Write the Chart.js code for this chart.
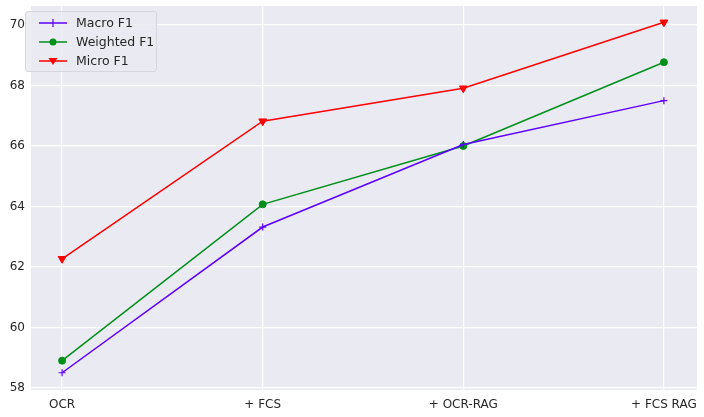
<!DOCTYPE html>
<html>
<head>
<meta charset="utf-8">
<script src="https://cdn.jsdelivr.net/npm/chart.js@4.4.0/dist/chart.umd.min.js"></script>
<style>
  html, body { margin: 0; padding: 0; background: #fff; }
  #wrap { position: relative; width: 704px; height: 417px; }
  #legend {
    position: absolute; left: 25px; top: 11px; width: 130px; height: 59px;
    background: rgba(234,234,242,0.85); border: 1px solid #d6d6de; border-radius: 3px;
    font-family: "DejaVu Sans", sans-serif; font-size: 12.5px; color: #262626;
  }
  #legend .row { position: absolute; left: 0; height: 19px; display: flex; align-items: center; }
  #legend svg { margin-left: 13px; margin-right: 9px; }
</style>
</head>
<body>
<div id="wrap">
  <canvas id="chart" width="704" height="417"></canvas>
  <div id="legend"></div>
</div>
<script>
const categories = ['OCR', '+ FCS', '+ OCR-RAG', '+ FCS RAG'];
const macroF1 = [58.5, 63.32, 66.05, 67.5];
const weightedF1 = [58.9, 64.07, 66.0, 68.77];
const microF1 = [62.27, 66.82, 67.91, 70.09];
const yTicks = [58, 60, 62, 64, 66, 68, 70];

const seriesInfo = [
    { label: 'Macro F1', values: macroF1, color: '#5c00ff', style: 'cross', radius: 3.5, rotation: 0 },
    { label: 'Weighted F1', values: weightedF1, color: '#008f1a', style: 'circle', radius: 3.5, rotation: 0 },
    { label: 'Micro F1', values: microF1, color: '#ff0000', style: 'triangle', radius: 4.5, rotation: 180 }
];

const bgPlugin = {
    id: 'plotBg',
    beforeDraw(chart) {
        const a = chart.chartArea;
        const ctx = chart.ctx;
        ctx.save();
        ctx.fillStyle = '#eaeaf2';
        ctx.fillRect(a.left, a.top, a.right - a.left, a.bottom - a.top);
        ctx.restore();
    }
};

const ctx = document.getElementById('chart').getContext('2d');
new Chart(ctx, {
    type: 'line',
    data: {
        datasets: seriesInfo.map(s => ({
            label: s.label,
            data: s.values.map((v, i) => ({ x: i, y: v })),
            borderColor: s.color,
            backgroundColor: s.color,
            borderWidth: 1.5,
            pointStyle: s.style,
            pointRadius: s.radius,
            pointRotation: s.rotation,
            pointBorderWidth: s.style === 'cross' ? 1.2 : 1,
            tension: 0
        }))
    },
    options: {
        responsive: false,
        animation: false,
        layout: { padding: { top: 6, right: 7, left: 0, bottom: 0 } },
        scales: {
            x: {
                type: 'linear',
                min: -0.155,
                max: 3.165,
                afterBuildTicks: axis => { axis.ticks = categories.map((c, i) => ({ value: i })); },
                afterFit: axis => { axis.height = 27; axis.paddingLeft = 0; axis.paddingRight = 0; },
                ticks: {
                    callback: v => categories[v],
                    color: '#262626',
                    font: { family: 'DejaVu Sans', size: 12 },
                    padding: 8,
                    maxRotation: 0,
                    autoSkip: false
                },
                grid: { color: '#ffffff', lineWidth: 1.2, drawTicks: false },
                border: { display: false }
            },
            y: {
                min: 57.93,
                max: 70.63,
                afterBuildTicks: axis => { axis.ticks = yTicks.map(v => ({ value: v })); },
                afterFit: axis => { axis.width = 31; axis.paddingTop = 0; axis.paddingBottom = 0; },
                ticks: {
                    color: '#262626',
                    font: { family: 'DejaVu Sans', size: 12 },
                    padding: 6
                },
                grid: { color: '#ffffff', lineWidth: 1.2, drawTicks: false },
                border: { display: false }
            }
        },
        plugins: {
            legend: { display: false },
            tooltip: { enabled: false }
        }
    },
    plugins: [bgPlugin]
});

// legend box inside the plot, like the original
const legend = document.getElementById('legend');
seriesInfo.forEach((s, i) => {
    const row = document.createElement('div');
    row.className = 'row';
    row.style.top = (1 + i * 19) + 'px';
    let marker = '';
    if (s.style === 'cross') {
        marker = `<line x1="14" y1="3" x2="14" y2="11" stroke="${s.color}" stroke-width="1.2"/>`;
    } else if (s.style === 'circle') {
        marker = `<circle cx="14" cy="7" r="3.5" fill="${s.color}"/>`;
    } else {
        marker = `<polygon points="9.5,4 18.5,4 14,11" fill="${s.color}"/>`;
    }
    row.innerHTML = `<svg width="28" height="14"><line x1="0" y1="7" x2="28" y2="7" stroke="${s.color}" stroke-width="1.5"/>${marker}</svg><span>${s.label}</span>`;
    legend.appendChild(row);
});
</script>
</body>
</html>
